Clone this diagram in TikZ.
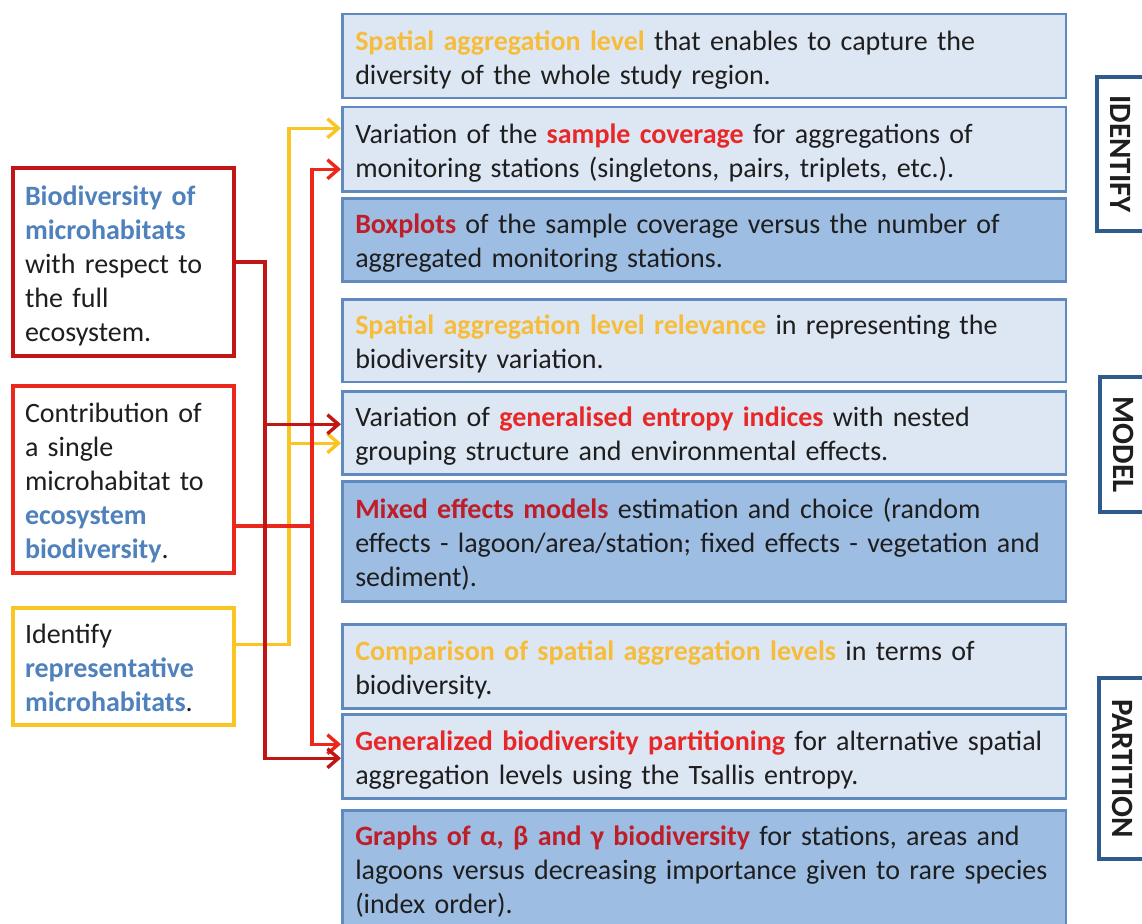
\documentclass[tikz,border=0pt]{standalone}
\usepackage{fontspec}
\setmainfont{Carlito}
\usetikzlibrary{arrows.meta,calc}
\definecolor{txt}{RGB}{30,30,30}
\definecolor{bluet}{RGB}{79,129,189}
\definecolor{orat}{RGB}{246,188,58}
\definecolor{redt}{RGB}{232,40,40}
\definecolor{dredt}{RGB}{190,30,40}
\definecolor{dredl}{RGB}{192,22,22}
\definecolor{redl}{RGB}{236,40,28}
\definecolor{yell}{RGB}{250,196,35}
\definecolor{boxline}{RGB}{95,138,192}
\definecolor{lightfill}{RGB}{221,231,243}
\definecolor{darkfill}{RGB}{157,189,227}
\definecolor{labline}{RGB}{46,90,140}
\newcommand{\bt}[1]{\textbf{\color{bluet}#1}}
\newcommand{\ot}[1]{\textbf{\color{orat}#1}}
\newcommand{\rt}[1]{\textbf{\color{redt}#1}}
\newcommand{\dt}[1]{\textbf{\color{dredt}#1}}
\newcommand{\tb}{\rule{0pt}{32pt}}
\newcommand{\te}{\rule[-10pt]{0pt}{10pt}}
\begin{document}
\begin{tikzpicture}[x=1pt,y=-1pt,
  every node/.style={font=\fontsize{28}{34}\selectfont, text=txt},
  rbox/.style={draw=boxline, line width=2.5pt, rectangle, anchor=north west,
    text width=697.5pt, inner xsep=13pt, align=left},
  lightbox/.style={rbox, fill=lightfill},
  darkbox/.style={rbox, fill=darkfill},
  lbox/.style={draw, line width=4pt, fill=white, rectangle, anchor=north west,
    text width=197pt, inner xsep=12pt, align=left},
  labbox/.style={draw=labline, line width=4pt, fill=white, rectangle, anchor=north west,
    minimum width=48pt, inner sep=0pt, font=\fontsize{31}{31}\selectfont\bfseries},
  conn/.style={line width=3.4pt, -{Straight Barb[length=11pt,width=19pt,line width=3.4pt]}},
  yconn/.style={conn, draw=yell},
  rconn/.style={conn, draw=redl},
  dconn/.style={conn, draw=dredl}
]
\useasboundingbox[fill=white] (0,0) rectangle (1142,923);

% right boxes
\node[lightbox, minimum height=84pt] (r1) at (341,13) {\tb\ot{Spatial aggregation level} that enables to capture the\\diversity of the whole study region.\te};
\node[lightbox, minimum height=84pt] (r2) at (341,106) {\tb Variation of the \rt{sample coverage} for aggregations of\\monitoring stations (singletons, pairs, triplets, etc.).\te};
\node[darkbox, minimum height=83pt] (r3) at (341,197) {\tb\dt{Boxplots} of the sample coverage versus the number of\\aggregated monitoring stations.\te};
\node[lightbox, minimum height=82pt] (r4) at (341,298) {\tb\ot{Spatial aggregation level relevance} in representing the\\biodiversity variation.\te};
\node[lightbox, minimum height=83pt] (r5) at (341,390) {\tb Variation of \rt{generalised entropy indices} with nested\\grouping structure and environmental effects.\te};
\node[darkbox, minimum height=120pt] (r6) at (341,480) {\tb\dt{Mixed effects models} estimation and choice (random\\effects - lagoon/area/station; fixed effects - vegetation and\\sediment).\te};
\node[lightbox, minimum height=84pt] (r7) at (341,623) {\tb\ot{Comparison of spatial aggregation levels} in terms of\\biodiversity.\te};
\node[lightbox, minimum height=84pt] (r8) at (341,713) {\tb\rt{Generalized biodiversity partitioning} for alternative spatial\\aggregation levels using the Tsallis entropy.\te};
\node[darkbox, minimum height=116pt] (r9) at (341,809) {\tb\dt{Graphs of α, β and γ biodiversity} for stations, areas and\\lagoons versus decreasing importance given to rare species\\(index order).\te};

% left boxes
\node[lbox, draw=dredl, minimum height=188pt] (L1) at (11,166) {\tb\bt{Biodiversity of}\\\bt{microhabitats}\\with respect to\\the full\\ecosystem.\te};
\node[lbox, draw=redl, minimum height=187pt] (L2) at (11,384) {\tb Contribution of\\a single\\microhabitat to\\\bt{ecosystem}\\\bt{biodiversity}.\te};
\node[lbox, draw=yell, minimum height=116pt] (L3) at (11,606) {\tb Identify\\\bt{representative}\\\bt{microhabitats}.\te};

% phase labels
\node[labbox, minimum height=154pt] (id) at (1095,75) {\rotatebox{-90}{IDENTIFY}};
\node[labbox, minimum height=135pt] (mo) at (1098,375) {\rotatebox{-90}{MODEL}};
\node[labbox, minimum height=181pt] (pa) at (1097,676) {\rotatebox{-90}{PARTITION}};

% trunk coordinates
\coordinate (ytr) at ([xshift=53pt,yshift=22pt]L3.east);
\coordinate (dtr) at ([xshift=29pt]L1.east);
\coordinate (rtr) at ([xshift=76pt,yshift=-46.5pt]L2.east);
\coordinate (y5) at ([yshift=-10.5pt]r5.west);
\coordinate (d5) at ([yshift=8.5pt]r5.west);

% connectors
\draw[yconn] ([yshift=22pt]L3.east) -- (ytr) |- ([yshift=21pt]r2.west);
\draw[yconn] (ytr |- y5) -- (y5);
\draw[rconn] ([yshift=-46.5pt]L2.east) -- (rtr) |- ([yshift=-20pt]r2.west);
\draw[rconn] ([yshift=-46.5pt]L2.east) -- (rtr) |- ([yshift=12pt]r8.west);
\draw[dconn] (L1.east) -- (dtr) |- ([yshift=-2pt]r8.west);
\draw[dconn] (dtr |- d5) -- (d5);
\end{tikzpicture}
\end{document}
